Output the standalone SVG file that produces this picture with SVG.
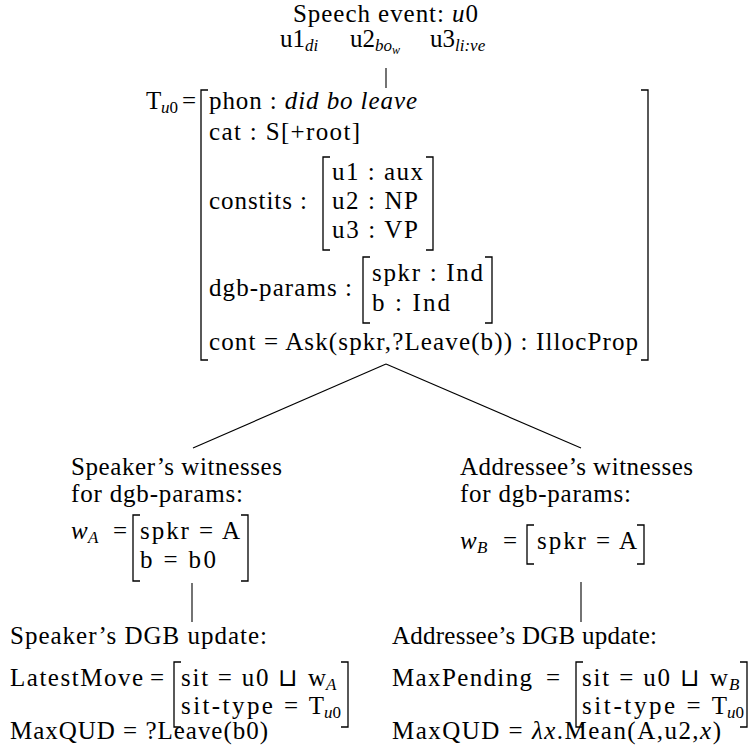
<svg xmlns="http://www.w3.org/2000/svg" width="753" height="755" viewBox="0 0 753 755">
<style>
text{font-family:"Liberation Serif","Times New Roman",serif;font-size:25px;fill:#000}
.i{font-style:italic}
.s{font-size:17px}
.ss{font-size:12px}
.br{fill:none;stroke:#000;stroke-width:1.3}
.ln{fill:none;stroke:#000;stroke-width:1.1}
</style>
<rect width="753" height="755" fill="#fff"/>

<g id="speech-event">
<text x="293" y="22" textLength="185" lengthAdjust="spacing">Speech event: <tspan class="i">u</tspan>0</text>
<text x="280" y="47">u1<tspan class="s i" dy="4">di</tspan></text>
<text x="350" y="47">u2<tspan class="s i" dy="4">bo</tspan><tspan class="ss i" dy="3">w</tspan></text>
<text x="430" y="47">u3<tspan class="s i" dy="4">li:ve</tspan></text>
</g>

<g id="sign-type">
<text x="146" y="109">T</text>
<text x="161" y="113" class="s"><tspan class="i">u</tspan>0</text>
<text x="182" y="109">=</text>
<path class="br" d="M208 90H201V360H208"/>
<path class="br" d="M641 90H648V360H641"/>
<text x="209" y="109" textLength="208" lengthAdjust="spacing">phon : <tspan class="i">did bo leave</tspan></text>
<text x="209" y="140" textLength="151" lengthAdjust="spacing">cat : S[+root]</text>
<text x="209" y="209" textLength="98" lengthAdjust="spacing">constits :</text>
<path class="br" d="M330 157H323V250H330"/>
<path class="br" d="M426 157H433V250H426"/>
<text x="332" y="180" textLength="91" lengthAdjust="spacing">u1 : aux</text>
<text x="332" y="209" textLength="86" lengthAdjust="spacing">u2 : NP</text>
<text x="332" y="238" textLength="86" lengthAdjust="spacing">u3 : VP</text>
<text x="209" y="296" textLength="143" lengthAdjust="spacing">dgb-params :</text>
<path class="br" d="M370 257H363V323H370"/>
<path class="br" d="M485 257H492V323H485"/>
<text x="372" y="281" textLength="111" lengthAdjust="spacing">spkr : Ind</text>
<text x="372" y="311" textLength="78" lengthAdjust="spacing">b : Ind</text>
<text x="209" y="350" textLength="429" lengthAdjust="spacing">cont = Ask(spkr,?Leave(b)) : IllocProp</text>
</g>

<g id="speaker-witnesses">
<text x="71" y="475" textLength="211" lengthAdjust="spacing">Speaker’s witnesses</text>
<text x="71" y="502" textLength="172" lengthAdjust="spacing">for dgb-params:</text>
<text x="71" y="539" class="i">w</text>
<text x="88" y="543" class="s i">A</text>
<text x="113" y="539">=</text>
<path class="br" d="M140 515H133V581H140"/>
<path class="br" d="M241 515H248V581H241"/>
<text x="140" y="539" textLength="100" lengthAdjust="spacing">spkr = A</text>
<text x="140" y="568" textLength="76" lengthAdjust="spacing">b = b0</text>
</g>

<g id="addressee-witnesses">
<text x="460" y="475" textLength="233" lengthAdjust="spacing">Addressee’s witnesses</text>
<text x="460" y="502" textLength="171" lengthAdjust="spacing">for dgb-params:</text>
<text x="460" y="549" class="i">w</text>
<text x="477" y="553" class="s i">B</text>
<text x="503" y="549">=</text>
<path class="br" d="M534 525H527V564H534"/>
<path class="br" d="M637 525H644V564H637"/>
<text x="537" y="549" textLength="100" lengthAdjust="spacing">spkr = A</text>
</g>

<g id="speaker-update">
<text x="10" y="644" textLength="257" lengthAdjust="spacing">Speaker’s DGB update:</text>
<text x="10" y="686" textLength="133" lengthAdjust="spacing">LatestMove</text>
<text x="150" y="686">=</text>
<path class="br" d="M181 662H174V727H181"/>
<path class="br" d="M341 662H348V727H341"/>
<text x="181" y="686" textLength="145" lengthAdjust="spacing">sit = u0 ⊔ w</text>
<text x="326" y="690" class="s i">A</text>
<text x="181" y="714" textLength="143" lengthAdjust="spacing">sit-type = T</text>
<text x="324" y="718" class="s"><tspan class="i">u</tspan>0</text>
<text x="10" y="739" textLength="258" lengthAdjust="spacing">MaxQUD = ?Leave(b0)</text>
</g>

<g id="addressee-update">
<text x="392" y="644" textLength="265" lengthAdjust="spacing">Addressee’s DGB update:</text>
<text x="392" y="686" textLength="140" lengthAdjust="spacing">MaxPending</text>
<text x="546" y="686">=</text>
<path class="br" d="M583 662H576V727H583"/>
<path class="br" d="M740 662H747V727H740"/>
<text x="582" y="686" textLength="146" lengthAdjust="spacing">sit = u0 ⊔ w</text>
<text x="729" y="690" class="s i">B</text>
<text x="582" y="714" textLength="145" lengthAdjust="spacing">sit-type = T</text>
<text x="727" y="718" class="s"><tspan class="i">u</tspan>0</text>
<text x="392" y="739" textLength="329" lengthAdjust="spacing">MaxQUD = <tspan class="i">λx</tspan>.Mean(A,u2,<tspan class="i">x</tspan>)</text>
</g>

<g id="connectors">
<line class="ln" x1="386" y1="68" x2="386" y2="88"/>
<line class="ln" x1="386" y1="364" x2="193" y2="448"/>
<line class="ln" x1="386" y1="364" x2="581" y2="448"/>
<line class="ln" x1="192" y1="583" x2="192" y2="622"/>
<line class="ln" x1="581" y1="582" x2="581" y2="622"/>
</g>
</svg>
